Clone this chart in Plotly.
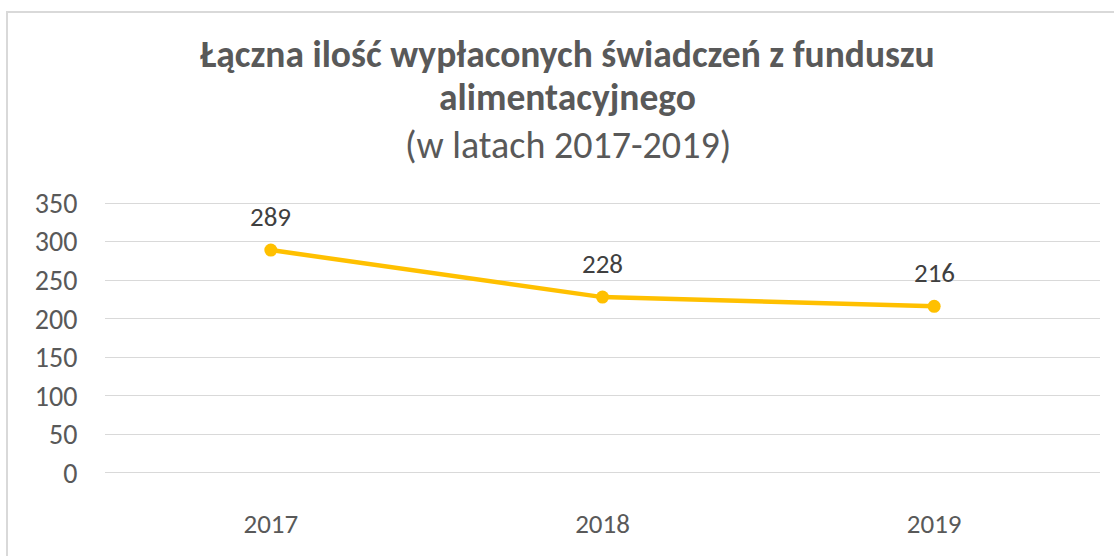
import plotly.graph_objects as go

years = ["2017", "2018", "2019"]
values = [289, 228, 216]
y_ticks = [0, 50, 100, 150, 200, 250, 300, 350]

title_lines = ["<b>Łączna ilość wypłaconych świadczeń z funduszu</b>",
               "<b>alimentacyjnego</b>",
               "(w latach 2017-2019)"]

gold = "#FFC000"
grey = "#595959"
font_family = "Carlito, Lato, 'Open Sans', sans-serif"

fig = go.Figure()
fig.add_trace(go.Scatter(
    x=years, y=values,
    mode="lines+markers",
    line=dict(color=gold, width=4.5),
    marker=dict(color=gold, size=13),
    hoverinfo="x+y",
    showlegend=False,
))

# data labels above the points (x as category index so "2017" isn't read as a number)
for i, v in enumerate(values):
    fig.add_annotation(x=i, y=v, text=str(v), showarrow=False,
                       yshift=34, font=dict(size=27, color="#404040"))

# title, one annotation per line so the spacing follows the source
for txt, ypos, size in zip(title_lines, [1.537, 1.381, 1.204], [37.5, 37.5, 38]):
    fig.add_annotation(xref="paper", yref="paper", x=0.4653, y=ypos,
                       xanchor="center", yanchor="middle", text=txt,
                       showarrow=False, font=dict(size=size, color=grey))

fig.update_layout(
    width=1114, height=556,
    paper_bgcolor="white", plot_bgcolor="white",
    font=dict(family=font_family, color=grey, size=27),
    margin=dict(l=105, r=14, t=201, b=81),
    xaxis=dict(type="category", showgrid=False, showline=False, zeroline=False,
               ticks="outside", ticklen=25, tickcolor="rgba(0,0,0,0)",
               range=[-0.5, 2.5], tickfont=dict(size=27, color=grey)),
    # range padded so the 0 and 350 gridlines are drawn too
    yaxis=dict(range=[-2.6, 352.6], tickvals=y_ticks, showgrid=True,
               gridcolor="#D9D9D9", gridwidth=1.3,
               zeroline=True, zerolinecolor="#D9D9D9", zerolinewidth=1.3,
               showline=False, ticks="outside", ticklen=21,
               tickcolor="rgba(0,0,0,0)", tickfont=dict(size=28, color=grey)),
)

# outer chart border (runs past the right/bottom edges as in the source)
fig.add_shape(type="rect", xref="paper", yref="paper",
              x0=-0.0985, x1=1.05, y0=-0.5, y1=1.69,
              line=dict(color="#D9D9D9", width=2), fillcolor="rgba(0,0,0,0)",
              layer="below")

fig.write_html("out.html", config={"displayModeBar": False},
               post_script="document.body.style.margin='0';")
